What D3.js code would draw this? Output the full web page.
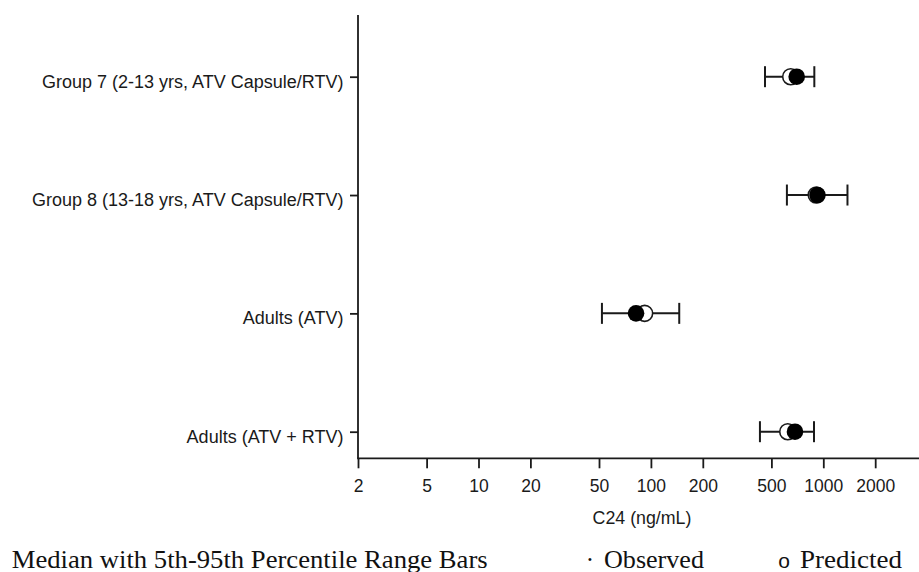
<!DOCTYPE html>
<html>
<head>
<meta charset="utf-8">
<script src="https://cdn.jsdelivr.net/npm/d3@7"></script>
<style>
  html, body { margin: 0; padding: 0; background: #fff; }
  svg { display: block; }
</style>
</head>
<body>
<svg id="chart" width="919" height="572"></svg>
<script>
// ---- data ----
const categories = [
  "Group 7 (2-13 yrs, ATV Capsule/RTV)",
  "Group 8 (13-18 yrs, ATV Capsule/RTV)",
  "Adults (ATV)",
  "Adults (ATV + RTV)"
];
const observed  = [701, 925, 82, 685];
const predicted = [647, 910, 92, 622];
const p5        = [459, 615, 52, 429];
const p95       = [887, 1381, 146, 883];
const xTicks = [2, 5, 10, 20, 50, 100, 200, 500, 1000, 2000];
const xTitle = "C24 (ng/mL)";
const legendTitle = "Median with 5th-95th Percentile Range Bars";
const legendObserved = "Observed";
const legendPredicted = "Predicted";

// ---- layout ----
const svg = d3.select("#chart");
const axisX0 = 358, axisX1 = 919, axisYTop = 15, axisYBottom = 458.3;
const sansFont = "'Liberation Sans', Arial, sans-serif";
const serifFont = "'Liberation Serif', 'Times New Roman', serif";
const ink = "#1a1a1a";

const x = d3.scaleLog().domain([2, 3590]).range([axisX0, axisX1]);
const y = d3.scalePoint().domain(categories).range([76.7, 431.7]);

const rows = categories.map((c, i) => ({
  cat: c, obs: observed[i], pred: predicted[i], lo: p5[i], hi: p95[i]
}));

// axes lines
svg.append("line").attr("x1", axisX0).attr("x2", axisX0)
  .attr("y1", axisYTop).attr("y2", axisYBottom)
  .attr("stroke", ink).attr("stroke-width", 1.8);
svg.append("line").attr("x1", axisX0 - 0.9).attr("x2", axisX1)
  .attr("y1", axisYBottom).attr("y2", axisYBottom)
  .attr("stroke", ink).attr("stroke-width", 1.8);

// x axis
const gx = svg.append("g").attr("transform", `translate(0,${axisYBottom})`)
  .call(d3.axisBottom(x).tickValues(xTicks).tickFormat(d3.format("d")).tickSize(10).tickSizeOuter(0));
gx.select(".domain").remove();
gx.selectAll(".tick line").attr("stroke", ink).attr("stroke-width", 1.8);
gx.selectAll(".tick text")
  .attr("y", 33.4).attr("dy", 0)
  .attr("fill", ink)
  .style("font-family", sansFont).style("font-size", "17.5px");

// y axis
const gy = svg.append("g").attr("transform", `translate(${axisX0},0)`)
  .call(d3.axisLeft(y).tickSize(8).tickPadding(6.5).tickSizeOuter(0));
gy.select(".domain").remove();
gy.selectAll(".tick line").attr("stroke", ink).attr("stroke-width", 1.8);
gy.selectAll(".tick text")
  .attr("dy", 0).attr("y", 10.3)
  .attr("fill", ink)
  .style("font-family", sansFont).style("font-size", "18px");

// x axis title
svg.append("text").attr("x", 642).attr("y", 524)
  .attr("text-anchor", "middle").attr("fill", ink)
  .style("font-family", sansFont).style("font-size", "17.8px")
  .text(xTitle);

// error bars
const capH = 10.5;
const marks = svg.append("g");
const eb = marks.selectAll("g.eb").data(rows).join("g").attr("class", "eb");
eb.append("line")
  .attr("x1", d => x(d.lo)).attr("x2", d => x(d.hi))
  .attr("y1", d => y(d.cat)).attr("y2", d => y(d.cat))
  .attr("stroke", ink).attr("stroke-width", 2);
eb.append("line")
  .attr("x1", d => x(d.lo)).attr("x2", d => x(d.lo))
  .attr("y1", d => y(d.cat) - capH).attr("y2", d => y(d.cat) + capH)
  .attr("stroke", ink).attr("stroke-width", 2);
eb.append("line")
  .attr("x1", d => x(d.hi)).attr("x2", d => x(d.hi))
  .attr("y1", d => y(d.cat) - capH).attr("y2", d => y(d.cat) + capH)
  .attr("stroke", ink).attr("stroke-width", 2);

// predicted (open) circles
eb.append("circle")
  .attr("cx", d => x(d.pred)).attr("cy", d => y(d.cat)).attr("r", 8)
  .attr("fill", "#fff").attr("stroke", ink).attr("stroke-width", 1.6);
// observed (filled) circles
eb.append("circle")
  .attr("cx", d => x(d.obs)).attr("cy", d => y(d.cat)).attr("r", 8.3)
  .attr("fill", "#000");

// legend
const leg = svg.append("g")
  .style("font-family", serifFont).style("font-size", "25px").attr("fill", "#111");
leg.append("text").attr("x", 11.7).attr("y", 568)
  .attr("textLength", 476).attr("lengthAdjust", "spacingAndGlyphs")
  .text(legendTitle);
leg.append("text").attr("x", 590).attr("y", 568).attr("text-anchor", "middle").text("·");
leg.append("text").attr("x", 604).attr("y", 568)
  .attr("textLength", 100).attr("lengthAdjust", "spacingAndGlyphs")
  .text(legendObserved);
leg.append("text").attr("x", 784).attr("y", 568).attr("text-anchor", "middle")
  .style("font-family", sansFont).style("font-size", "21px").text("o");
leg.append("text").attr("x", 800).attr("y", 568)
  .attr("textLength", 102).attr("lengthAdjust", "spacingAndGlyphs")
  .text(legendPredicted);
</script>
</body>
</html>
